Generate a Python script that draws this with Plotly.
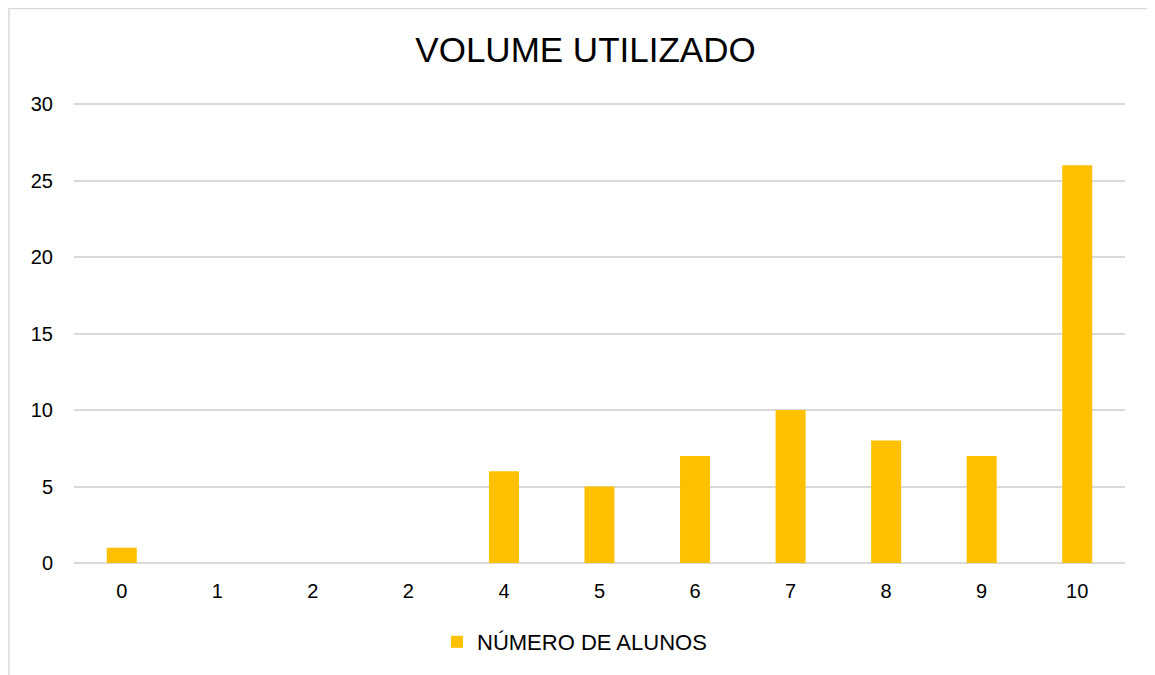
import plotly.graph_objects as go

categories = ["0", "1", "2", "2", "4", "5", "6", "7", "8", "9", "10"]
values = [1, 0, 0, 0, 6, 5, 7, 10, 8, 7, 26]
series_name = "NÚMERO DE ALUNOS"
title = "VOLUME UTILIZADO"
y_ticks = [0, 5, 10, 15, 20, 25, 30]

positions = list(range(len(categories)))

fig = go.Figure()
fig.add_trace(go.Bar(
    x=positions, y=values, name=series_name,
    marker=dict(color="#FFC000", line=dict(width=0)),
    showlegend=True,
))

# page body has an 8px offset; figure coords = screen coords - 8
OFF = 8
W, H = 1155, 675
YMAX = 30.2
px_per_unit = 459 / 30.0
pw = 1051
ph = YMAX * px_per_unit
L = 74 - OFF
T = (104 - OFF) - (YMAX - 30) * px_per_unit
R = W - L - pw
B = H - T - ph

def px_x(p):
    return (p - OFF - L) / pw

def px_y(p):
    return (H - B - (p - OFF)) / ph

fig.update_layout(
    width=W, height=H,
    margin=dict(l=L, r=R, t=T, b=B),
    paper_bgcolor="white", plot_bgcolor="white",
    font=dict(family="Liberation Sans, Arial, sans-serif", color="#000000", size=20),
    title=dict(text=title, x=0.5, xanchor="center", y=1 - (50 - OFF) / H, yanchor="middle",
               font=dict(size=35, color="#000000")),
    bargap=0.686,
    showlegend=True,
    legend=dict(orientation="h", x=px_x(437), xanchor="left", y=px_y(642), yanchor="middle",
                font=dict(size=22), itemwidth=30),
    xaxis=dict(tickmode="array", tickvals=positions, ticktext=categories,
               range=[-0.5, len(categories) - 0.5], showgrid=False, zeroline=False,
               showline=False, ticks="", ticklabelstandoff=14),
    yaxis=dict(range=[0, YMAX], tickvals=y_ticks, showgrid=True, gridcolor="#d9d9d9",
               gridwidth=1.5, zeroline=True, zerolinecolor="#d9d9d9", zerolinewidth=1.5,
               showline=False, ticks="", ticklabelstandoff=20),
    shapes=[dict(type="rect", xref="paper", yref="paper",
                 x0=px_x(9), x1=px_x(1153), y0=px_y(700), y1=px_y(8.5),
                 line=dict(color="#d9d9d9", width=1.5), fillcolor="rgba(0,0,0,0)",
                 layer="below")],
)

fig.write_html("out.html")
